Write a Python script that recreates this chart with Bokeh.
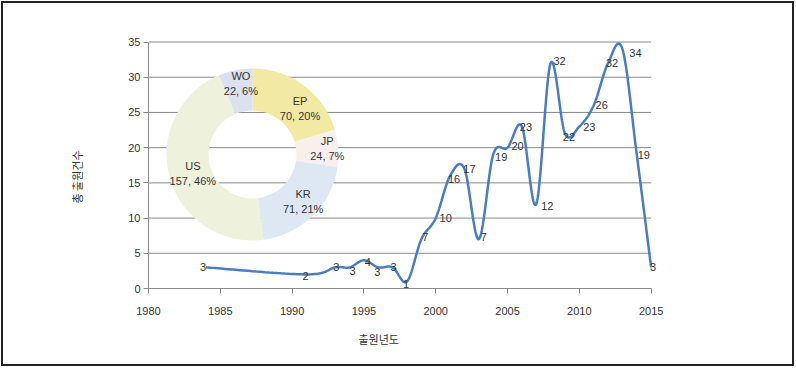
import numpy as np
from bokeh.plotting import figure
from bokeh.models import ColumnDataSource, LabelSet, Range1d, FixedTicker, Title
from bokeh.core.properties import value
from bokeh.embed import file_html
from bokeh.resources import INLINE

# ---------------- data ----------------
years = [1984, 1991, 1993, 1994, 1995, 1996, 1997, 1998, 1999, 2000, 2001, 2002,
         2003, 2004, 2005, 2006, 2007, 2008, 2009, 2010, 2011, 2012, 2013, 2014, 2015]
counts = [3, 2, 3, 3, 4, 3, 3, 1, 7, 10, 16, 17,
          7, 19, 20, 23, 12, 32, 22, 23, 26, 32, 34, 19, 3]

offices = ["EP", "JP", "KR", "US", "WO"]
office_counts = [70, 24, 71, 157, 22]
office_pcts = ["20%", "7%", "21%", "46%", "6%"]

x_ticks = [1980, 1985, 1990, 1995, 2000, 2005, 2010, 2015]
y_ticks = [0, 5, 10, 15, 20, 25, 30, 35]

x_title = "출원년도"
y_title = "총 출원건수"

# ---------------- styles / layout ----------------
LINE_COLOR = "#4a7cc2"
AXIS_COLOR = "#8a8a8a"
TEXT_COLOR = "#333333"
NUM_FONT = "Liberation Sans"
KR_FONT = "Noto Sans CJK KR"
pie_colors = ["#f2e9a4", "#f9efec", "#dee8f5", "#eef2dd", "#dce1ef"]

# label nudges (screen px, +dx right, +dy down) for the value labels
lab_dx = [-3, -1, 1, 3, 4, -1, 1, -1, 4, 10, 4, 5, 5, 8, 10, 4, 11, 9, 4, 10, 8, 4, 13, 7, 2]
lab_dy = [0, 2, 0, 4, 2, 5, 0, 3, -2, 0, 3, 0, -2, 2, -2, 0, 2, -2, 3, 0, 0, 0, 4, 0, 0]

# pie geometry (center in data coords, radii in screen px)
pie_cx, pie_cy = 1987.24, 19.03
r_in, r_out = 44, 86
pie_lab_r = 68
pie_nudge_dx = [7, 7, 3, 6, 2]
pie_nudge_dy = [9, -1, -2, 1, -4]


def smooth_path(xs, ys, n=30):
    """Excel-style smoothed line (cubic Bezier through the points)."""
    P = np.column_stack([xs, ys]).astype(float)
    out = []
    for i in range(len(P) - 1):
        p0 = P[i - 1] if i > 0 else P[i]
        p1, p2 = P[i], P[i + 1]
        p3 = P[i + 2] if i + 2 < len(P) else P[i + 1]
        c1 = p1 + (p2 - p0) / 6.0
        c2 = p2 - (p3 - p1) / 6.0
        t = np.linspace(0, 1, n)[:, None]
        seg = (1 - t) ** 3 * p1 + 3 * (1 - t) ** 2 * t * c1 + 3 * (1 - t) * t ** 2 * c2 + t ** 3 * p2
        out.append(seg if i == 0 else seg[1:])
    S = np.vstack(out)
    return S[:, 0], S[:, 1]


p = figure(width=793, height=365, x_range=Range1d(1980, 2016), y_range=Range1d(0, 35.5),
           output_backend="svg", toolbar_location=None,
           min_border_left=145, min_border_right=131, min_border_top=35, min_border_bottom=80)
p.outline_line_color = None
p.background_fill_color = "white"
p.border_fill_color = "white"
p.styles = {"border": "2px solid #222222", "margin-left": "1px", "margin-top": "1px"}

# axes
p.xaxis.ticker = FixedTicker(ticks=x_ticks)
p.yaxis.ticker = FixedTicker(ticks=y_ticks)
p.xaxis.bounds = (x_ticks[0], x_ticks[-1])
p.yaxis.bounds = (y_ticks[0], y_ticks[-1])
for ax in (p.xaxis, p.yaxis):
    ax.axis_line_color = AXIS_COLOR
    ax.major_tick_line_color = AXIS_COLOR
    ax.major_tick_in = 0
    ax.major_tick_out = 5
    ax.minor_tick_line_color = None
    ax.major_label_text_font = NUM_FONT
    ax.major_label_text_font_size = "11px"
    ax.major_label_text_color = TEXT_COLOR
p.xaxis.major_label_standoff = 13
p.yaxis.major_label_standoff = 3
p.xgrid.visible = False
p.ygrid.visible = False

# horizontal grid lines spanning the x-axis extent
p.segment(x0=[x_ticks[0]] * len(y_ticks), x1=[x_ticks[-1]] * len(y_ticks),
          y0=y_ticks, y1=y_ticks, line_color=AXIS_COLOR, line_width=1)

# donut
tot = float(sum(office_counts))
cum = np.concatenate([[0], np.cumsum(office_counts)])
start = np.pi / 2 - 2 * np.pi * cum[1:] / tot
end = np.pi / 2 - 2 * np.pi * cum[:-1] / tot
mid = 2 * np.pi * (cum[:-1] + cum[1:]) / 2 / tot  # clockwise from top
pie_src = ColumnDataSource(dict(
    x=[pie_cx] * 5, y=[pie_cy] * 5, start=start, end=end, color=pie_colors,
    name=offices,
    val=[f"{c}, {pc}" for c, pc in zip(office_counts, office_pcts)],
    dx=pie_lab_r * np.sin(mid) + np.array(pie_nudge_dx),
    dy_name=-(-pie_lab_r * np.cos(mid) + np.array(pie_nudge_dy) - 7.5),
    dy_val=-(-pie_lab_r * np.cos(mid) + np.array(pie_nudge_dy) + 7.5),
))
p.annular_wedge(x="x", y="y", inner_radius=r_in, outer_radius=r_out,
                inner_radius_units="screen", outer_radius_units="screen",
                start_angle="start", end_angle="end", fill_color="color",
                line_color=None, source=pie_src)
for col, dycol in (("name", "dy_name"), ("val", "dy_val")):
    p.add_layout(LabelSet(x="x", y="y", text=col, x_offset="dx", y_offset=dycol,
                          source=pie_src, text_align="center", text_baseline="middle",
                          text_font=value(NUM_FONT), text_font_size="11px",
                          text_color=TEXT_COLOR))

# smoothed line
sx, sy = smooth_path(years, counts)
p.line(sx, sy, line_color=LINE_COLOR, line_width=2.5)

lab_src = ColumnDataSource(dict(x=years, y=counts, t=[str(c) for c in counts],
                                dx=lab_dx, dy=[-d for d in lab_dy]))
p.add_layout(LabelSet(x="x", y="y", text="t", x_offset="dx", y_offset="dy", source=lab_src,
                      text_align="center", text_baseline="middle",
                      text_font=value(NUM_FONT), text_font_size="11px",
                      text_color=TEXT_COLOR))

# axis titles
p.add_layout(Title(text=x_title, align="left", offset=210, standoff=22,
                   text_font=KR_FONT, text_font_size="11px", text_font_style="normal",
                   text_color=TEXT_COLOR), "below")
p.add_layout(Title(text=y_title, align="left", offset=85, standoff=82,
                   text_font=KR_FONT, text_font_size="11px", text_font_style="normal",
                   text_color=TEXT_COLOR), "left")

open("out.html", "w").write(file_html(p, INLINE))
